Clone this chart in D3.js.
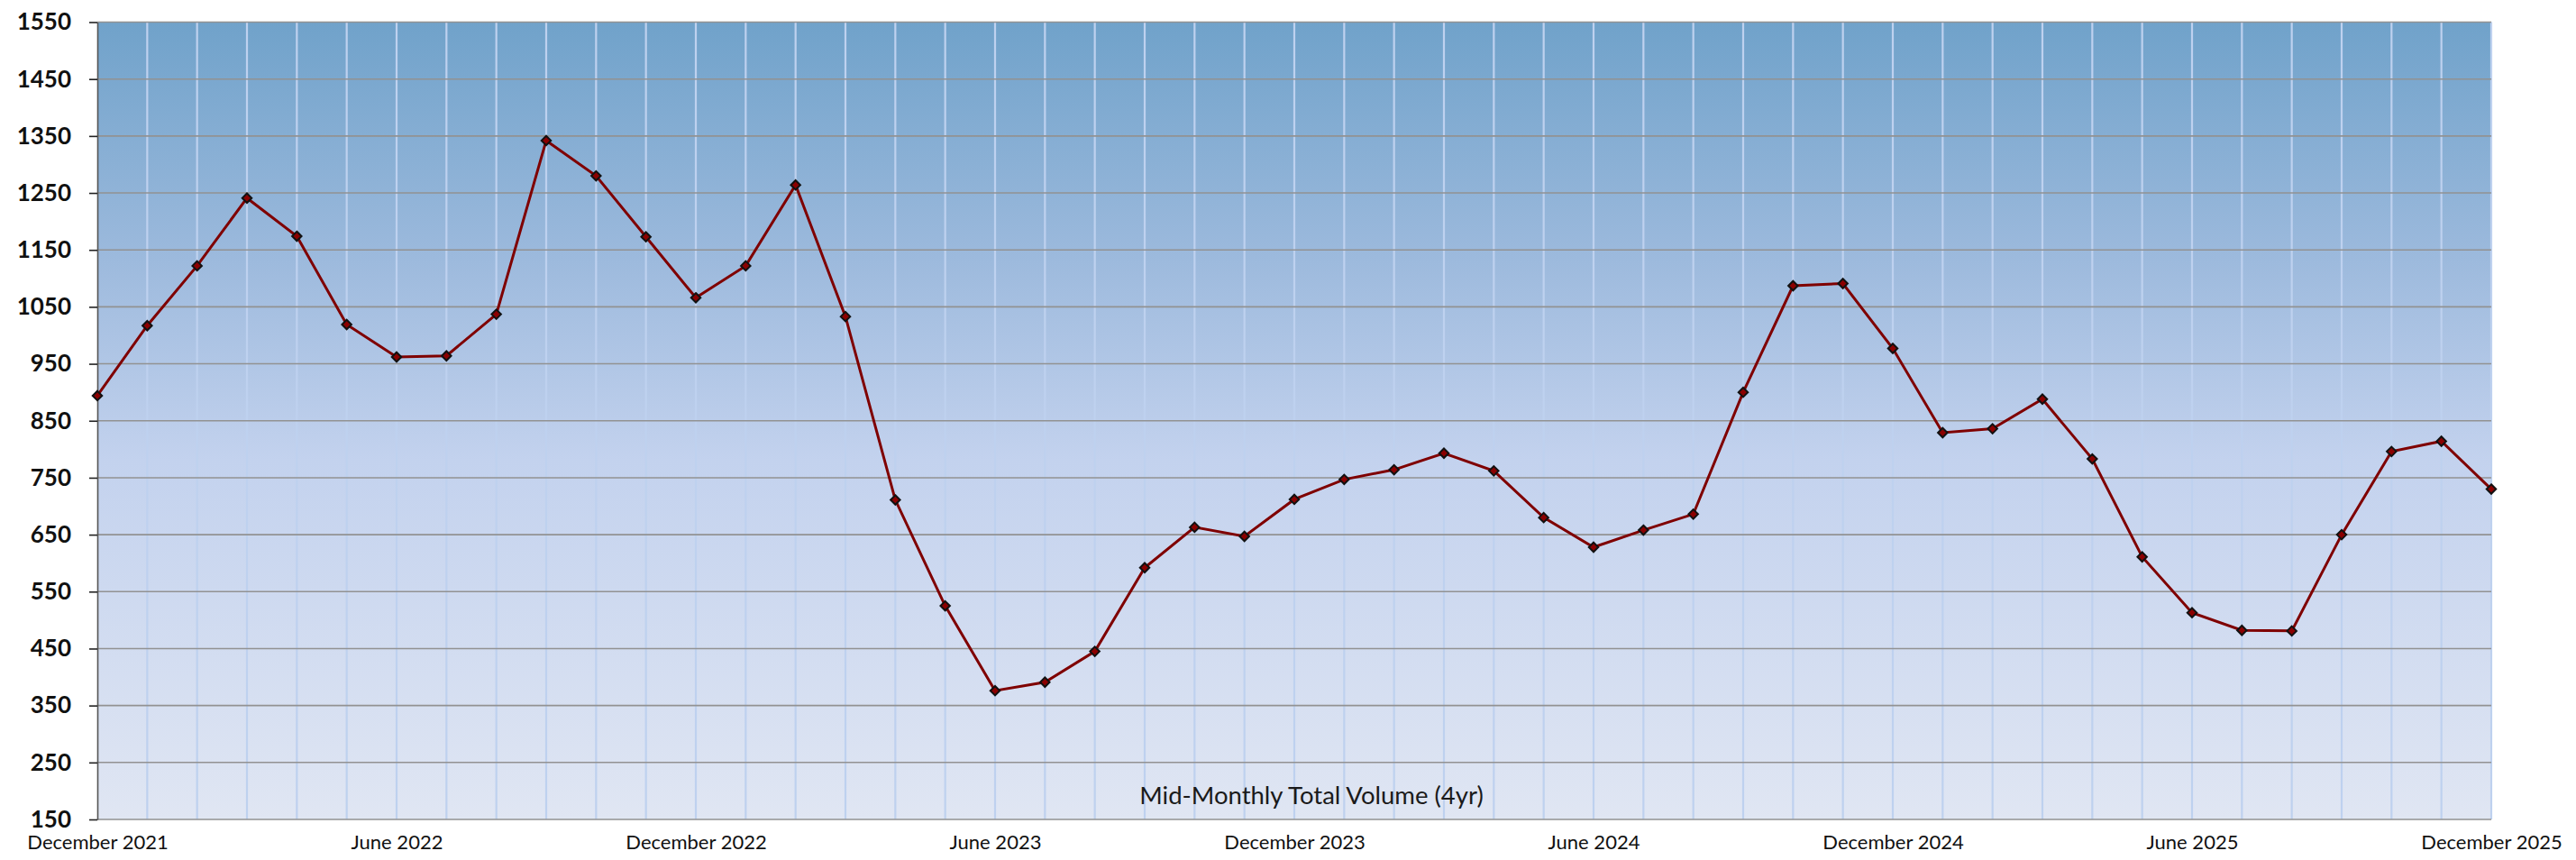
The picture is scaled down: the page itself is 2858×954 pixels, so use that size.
<!DOCTYPE html>
<html>
<head>
<meta charset="utf-8">
<script src="https://d3js.org/d3.v7.min.js"></script>
<style>
  body { margin: 0; background: #fff; font-family: Lato, "Open Sans", sans-serif; }
  svg { display: block; }
</style>
</head>
<body>
<div id="area"></div>
<script>
// months Dec 2021 .. Dec 2025
var months = [
  "2021-12","2022-01","2022-02","2022-03","2022-04","2022-05","2022-06","2022-07","2022-08","2022-09","2022-10","2022-11",
  "2022-12","2023-01","2023-02","2023-03","2023-04","2023-05","2023-06","2023-07","2023-08","2023-09","2023-10","2023-11",
  "2023-12","2024-01","2024-02","2024-03","2024-04","2024-05","2024-06","2024-07","2024-08","2024-09","2024-10","2024-11",
  "2024-12","2025-01","2025-02","2025-03","2025-04","2025-05","2025-06","2025-07","2025-08","2025-09","2025-10","2025-11",
  "2025-12"
];
var volume = [
  894, 1017, 1122, 1241, 1174, 1019, 962, 964, 1037, 1342, 1280, 1173,
  1066, 1122, 1264, 1033, 711, 525, 376, 391, 445, 592, 663, 647,
  712, 747, 764, 793, 762, 680, 628, 658, 686, 900, 1087, 1091,
  977, 829, 836, 888, 783, 611, 513, 482, 481, 650, 796, 814,
  730
];
var xLabels = {
  "2021-12": "December 2021", "2022-06": "June 2022", "2022-12": "December 2022",
  "2023-06": "June 2023", "2023-12": "December 2023", "2024-06": "June 2024",
  "2024-12": "December 2024", "2025-06": "June 2025", "2025-12": "December 2025"
};
var yTicks = d3.range(150, 1551, 100);
var title = "Mid-Monthly Total Volume (4yr)";

var W = 2858, H = 954;
var margin = {left: 108, right: 2764, top: 24.5, bottom: 909};

var svg = d3.select("#area").append("svg")
  .attr("width", W).attr("height", H);

var x = d3.scalePoint().domain(months).range([margin.left, margin.right]);
var y = d3.scaleLinear().domain([150, 1550]).range([margin.bottom, margin.top]);

// background gradient
var grad = svg.append("defs").append("linearGradient")
  .attr("id", "bg").attr("x1", 0).attr("y1", 0).attr("x2", 0).attr("y2", 1);
grad.append("stop").attr("offset", "0%").attr("stop-color", "#70a2ca");
grad.append("stop").attr("offset", "30%").attr("stop-color", "#9dbadd");
grad.append("stop").attr("offset", "55%").attr("stop-color", "#c3d2ee");
grad.append("stop").attr("offset", "100%").attr("stop-color", "#e0e6f3");

svg.append("rect")
  .attr("x", margin.left).attr("y", margin.top)
  .attr("width", margin.right - margin.left).attr("height", margin.bottom - margin.top)
  .attr("fill", "url(#bg)");

// vertical gridlines (every month)
svg.append("g")
  .selectAll("line")
  .data(months.slice(1))
  .enter().append("line")
    .attr("x1", function(d) { return x(d); })
    .attr("x2", function(d) { return x(d); })
    .attr("y1", margin.top).attr("y2", margin.bottom)
    .attr("stroke", "#bed1ef")
    .attr("stroke-width", 2.2);

// horizontal gridlines
svg.append("g")
  .selectAll("line")
  .data(yTicks)
  .enter().append("line")
    .attr("x1", margin.left).attr("x2", margin.right)
    .attr("y1", function(d) { return y(d); })
    .attr("y2", function(d) { return y(d); })
    .attr("stroke", "#929292")
    .attr("stroke-width", 1.6);

// Y axis
var yAxis = svg.append("g")
  .attr("transform", "translate(" + margin.left + ",0)")
  .call(d3.axisLeft(y).tickValues(yTicks).tickFormat(d3.format("d"))
    .tickSize(9).tickPadding(20).tickSizeOuter(0));
yAxis.select(".domain").attr("stroke", "#555").attr("stroke-width", 1.6);
yAxis.selectAll(".tick line").attr("stroke", "#222").attr("stroke-width", 1.6);
yAxis.selectAll("text")
  .attr("fill", "#111")
  .style("font-family", "Lato, sans-serif")
  .style("font-weight", "bold")
  .style("font-size", "26px");

// X axis labels
var xAxis = svg.append("g")
  .attr("transform", "translate(0," + margin.bottom + ")")
  .call(d3.axisBottom(x)
    .tickValues(Object.keys(xLabels))
    .tickFormat(function(d) { return xLabels[d]; })
    .tickSize(0).tickPadding(17));
xAxis.select(".domain").remove();
xAxis.selectAll("text")
  .attr("fill", "#111")
  .style("font-family", "Lato, sans-serif")
  .style("font-size", "22px");

// title inside the plot
svg.append("text")
  .attr("x", 1455).attr("y", 892)
  .attr("text-anchor", "middle")
  .attr("fill", "#1a1a1a")
  .style("font-family", "Lato, sans-serif")
  .style("font-size", "27.5px")
  .text(title);

// line
var line = d3.line()
  .x(function(d, i) { return x(months[i]); })
  .y(function(d) { return y(d); });

svg.append("path")
  .datum(volume)
  .attr("fill", "none")
  .attr("stroke", "#7f0000")
  .attr("stroke-width", 3)
  .attr("d", line);

// diamond markers
var diamond = d3.symbol().type(d3.symbolDiamond2).size(70);
svg.append("g")
  .selectAll("path")
  .data(volume)
  .enter().append("path")
    .attr("d", diamond)
    .attr("transform", function(d, i) { return "translate(" + x(months[i]) + "," + y(d) + ")"; })
    .attr("fill", "#8b0000")
    .attr("stroke", "#111")
    .attr("stroke-width", 2);
</script>
</body>
</html>
